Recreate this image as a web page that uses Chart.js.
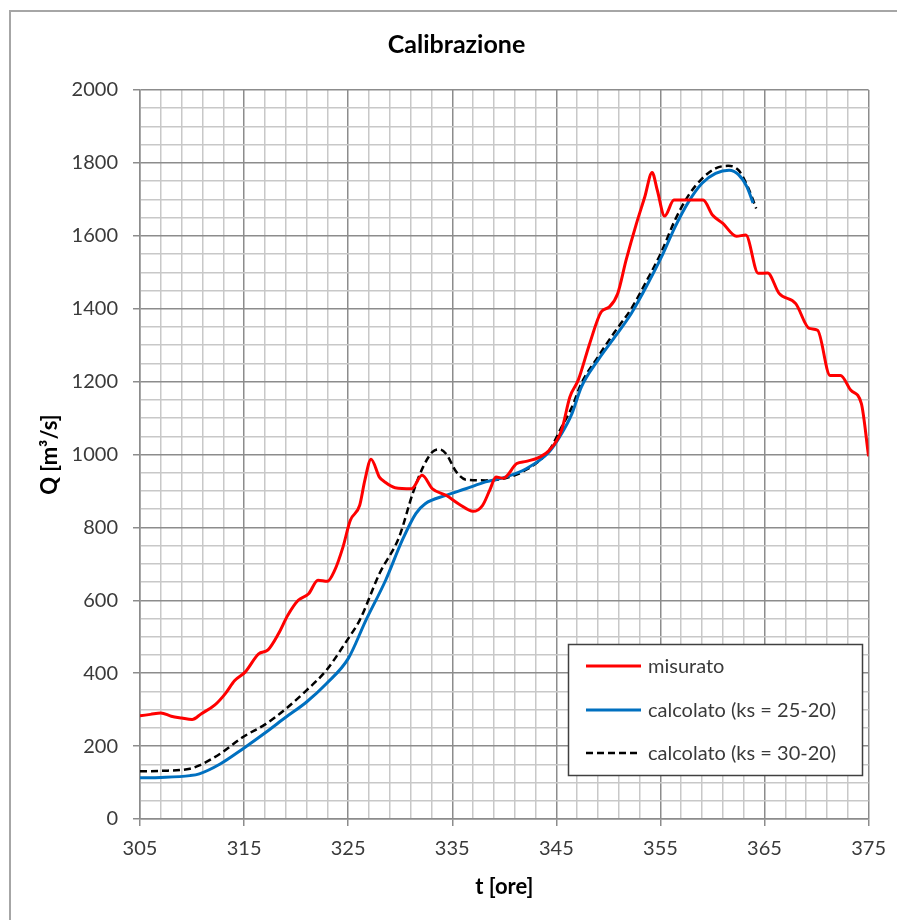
<!DOCTYPE html>
<html>
<head>
<meta charset="utf-8">
<script src="https://cdn.jsdelivr.net/npm/chart.js@4.4.1/dist/chart.umd.min.js"></script>
<style>
  html, body { margin: 0; padding: 0; background: #fff; overflow: hidden; }
  #frame { position: absolute; left: 9px; top: 10px; width: 1000px; height: 1000px; border-left: 2px solid #a6a6a6; border-top: 2px solid #a6a6a6; }
  canvas { position: absolute; left: 0; top: 0; }
</style>
</head>
<body>
<div id="frame"></div>
<canvas id="c" width="897" height="920"></canvas>
<script>
// ---- data ----
const chartTitle = 'Calibrazione';
const xTitle = 't [ore]';
const yTitle = 'Q [m³/s]';
const seriesLabels = ['misurato', 'calcolato (ks = 25-20)', 'calcolato (ks = 30-20)'];

const tMisurato = [305, 306, 307, 308, 309, 310, 310.9, 312.2, 313.2, 314.1, 315.1, 316.4, 317.3, 318.3, 319.2, 320.2, 321.2, 322.1, 323, 323.7, 324.5, 325.2, 326.1, 326.6, 327.2, 328, 328.5, 329.5, 331.1, 332.1, 333.1, 334.4, 335.7, 337, 337.9, 338.6, 339.2, 339.9, 341.2, 342.1, 343.4, 344.3, 345.5, 346.3, 347.1, 348.2, 349.3, 350.1, 350.9, 351.7, 352.7, 353.5, 354.2, 354.7, 355.4, 356.3, 357.8, 359.1, 360, 361, 362.3, 363.2, 364.4, 365.3, 366.4, 368, 369.3, 370.1, 371.3, 372.3, 373.3, 374.3, 375];
const qMisurato = [283, 287, 291, 282, 277, 273, 289, 313, 344, 380, 403, 453, 464, 508, 559, 600, 618, 655, 652, 682, 746, 819, 860, 929, 987, 938, 925, 909, 906, 943, 906, 888, 863, 844, 860, 902, 938, 935, 975, 981, 993, 1011, 1066, 1158, 1204, 1304, 1391, 1405, 1442, 1533, 1634, 1707, 1774, 1725, 1654, 1698, 1698, 1698, 1657, 1634, 1599, 1602, 1497, 1498, 1442, 1414, 1346, 1341, 1217, 1217, 1176, 1140, 995];

const tCalc1 = [305, 307, 309.8, 310.7, 312.7, 314.9, 317.1, 319, 321, 322.9, 325, 326.7, 328.6, 330.2, 331.5, 332.4, 334.4, 336.3, 338.2, 340.1, 342.1, 344.3, 345.5, 346.5, 347.4, 349, 350.6, 352.2, 353.8, 355.1, 356.4, 357.7, 359, 360.3, 361.6, 362.5, 363.3, 363.9];
const qCalc1 = [113, 114, 119, 124, 151, 193, 238, 279, 321, 371, 440, 545, 655, 765, 838, 865, 888, 906, 925, 938, 961, 1007, 1057, 1112, 1185, 1259, 1322, 1387, 1469, 1542, 1624, 1693, 1744, 1771, 1780, 1768, 1735, 1690];

const tCalc2 = [305, 307, 309.8, 310.7, 312.7, 314.9, 317.1, 319, 321, 322.9, 325, 326.1, 328, 329.9, 331.2, 332.2, 333.1, 333.8, 334.4, 335.4, 336.3, 338.2, 340.1, 342.1, 344.3, 345.5, 346.5, 347.4, 349, 350.6, 352.2, 353.8, 355.1, 356.4, 357.7, 359, 360.3, 361.5, 362.5, 363.4, 364.2];
const qCalc2 = [131, 132, 138, 147, 179, 225, 261, 302, 353, 408, 495, 545, 673, 774, 893, 966, 1007, 1014, 1002, 952, 931, 929, 935, 958, 1011, 1075, 1130, 1195, 1268, 1336, 1400, 1483, 1556, 1643, 1711, 1757, 1785, 1792, 1780, 1734, 1675];

const xTickLabels = [305, 315, 325, 335, 345, 355, 365, 375];
const yTickLabels = [0, 200, 400, 600, 800, 1000, 1200, 1400, 1600, 1800, 2000];
const xMinorStep = 2;
const yMinorStep = 50;

// ---- build ----
const toPts = (ts, qs) => ts.map((t, i) => ({ x: t, y: qs[i] }));
const FONT = 'Lato, "Open Sans", sans-serif';
const TXT = '#3a3a3a';

function gridValues(min, max, step) {
  const out = [];
  for (let v = min; v <= max + 1e-9; v += step) out.push(+v.toFixed(6));
  return out;
}
const xMin = xTickLabels[0], xMax = xTickLabels[xTickLabels.length - 1];
const yMin = yTickLabels[0], yMax = yTickLabels[yTickLabels.length - 1];
const isMajorX = v => xTickLabels.some(l => Math.abs(l - v) < 1e-6);
const isMajorY = v => yTickLabels.some(l => Math.abs(l - v) < 1e-6);

const legendBox = {
  id: 'legendBox',
  afterDatasetsDraw(chart) {
    const ctx = chart.ctx;
    const x0 = 568.5, y0 = 644.5, w = 294, h = 131;
    ctx.save();
    ctx.fillStyle = '#ffffff';
    ctx.fillRect(x0, y0, w, h);
    ctx.strokeStyle = '#404040';
    ctx.lineWidth = 1.5;
    ctx.strokeRect(x0, y0, w, h);
    const rows = [666, 710, 753];
    chart.data.datasets.forEach((ds, i) => {
      const y = rows[i];
      ctx.beginPath();
      ctx.strokeStyle = ds.borderColor;
      ctx.lineWidth = ds.borderWidth;
      ctx.setLineDash(ds.borderDash || []);
      ctx.moveTo(586, y);
      ctx.lineTo(641, y);
      ctx.stroke();
      ctx.setLineDash([]);
      ctx.fillStyle = TXT;
      ctx.font = '20px ' + FONT;
      ctx.textBaseline = 'middle';
      ctx.textAlign = 'left';
      ctx.fillText(ds.label, 648, y + 1);
    });
    ctx.restore();
  }
};

new Chart(document.getElementById('c'), {
  type: 'line',
  data: {
    datasets: [
      { label: seriesLabels[0], data: toPts(tMisurato, qMisurato), borderColor: '#ff0000', borderWidth: 3, pointRadius: 0, cubicInterpolationMode: 'monotone', fill: false },
      { label: seriesLabels[1], data: toPts(tCalc1, qCalc1), borderColor: '#0070c0', borderWidth: 3, pointRadius: 0, cubicInterpolationMode: 'monotone', fill: false },
      { label: seriesLabels[2], data: toPts(tCalc2, qCalc2), borderColor: '#000000', borderWidth: 2.5, borderDash: [7, 4], pointRadius: 0, cubicInterpolationMode: 'monotone', fill: false }
    ]
  },
  options: {
    responsive: false,
    animation: false,
    devicePixelRatio: 1,
    layout: { padding: { left: 41, right: 25, top: 0, bottom: 0 } },
    plugins: {
      legend: { display: false },
      tooltip: { enabled: false },
      title: {
        display: true, text: chartTitle, color: '#000',
        font: { family: FONT, size: 25, weight: 'bold', lineHeight: 1.2 },
        padding: { top: 30, bottom: 30 }
      }
    },
    scales: {
      x: {
        type: 'linear', min: xMin, max: xMax,
        afterBuildTicks: s => { s.ticks = gridValues(xMin, xMax, xMinorStep).map(v => ({ value: v })); },
        afterFit: s => { s.height = 101; },
        ticks: {
          autoSkip: false, maxRotation: 0, padding: 11, color: TXT,
          font: { family: FONT, size: 20 },
          callback: v => isMajorX(v) ? String(v) : ''
        },
        grid: {
          color: c => isMajorX(c.tick.value) ? '#8c8c8c' : '#c8c8c8',
          lineWidth: 1.5,
          tickLength: 7,
          tickColor: c => isMajorX(c.tick.value) ? '#8c8c8c' : 'rgba(0,0,0,0)'
        },
        border: { color: '#8c8c8c', width: 1.5 },
        title: {
          display: true, text: xTitle, color: '#000',
          font: { family: FONT, size: 22, weight: 'bold', lineHeight: 1.2 },
          padding: { top: 0, bottom: 20 }
        }
      },
      y: {
        type: 'linear', min: yMin, max: yMax,
        afterBuildTicks: s => { s.ticks = gridValues(yMin, yMax, yMinorStep).map(v => ({ value: v })); },
        afterFit: s => { s.width = 99; },
        ticks: {
          autoSkip: false, padding: 15, color: TXT,
          font: { family: FONT, size: 20 },
          callback: v => isMajorY(v) ? String(v) : ''
        },
        grid: {
          color: c => isMajorY(c.tick.value) ? '#8c8c8c' : '#c8c8c8',
          lineWidth: 1.5,
          tickLength: 7,
          tickColor: c => isMajorY(c.tick.value) ? '#8c8c8c' : 'rgba(0,0,0,0)'
        },
        border: { color: '#8c8c8c', width: 1.5 },
        title: {
          display: true, text: yTitle, color: '#000',
          font: { family: FONT, size: 22, weight: 'bold', lineHeight: 0.8 },
          padding: { top: 0, bottom: 0 }
        }
      }
    }
  },
  plugins: [legendBox]
});
</script>
</body>
</html>
